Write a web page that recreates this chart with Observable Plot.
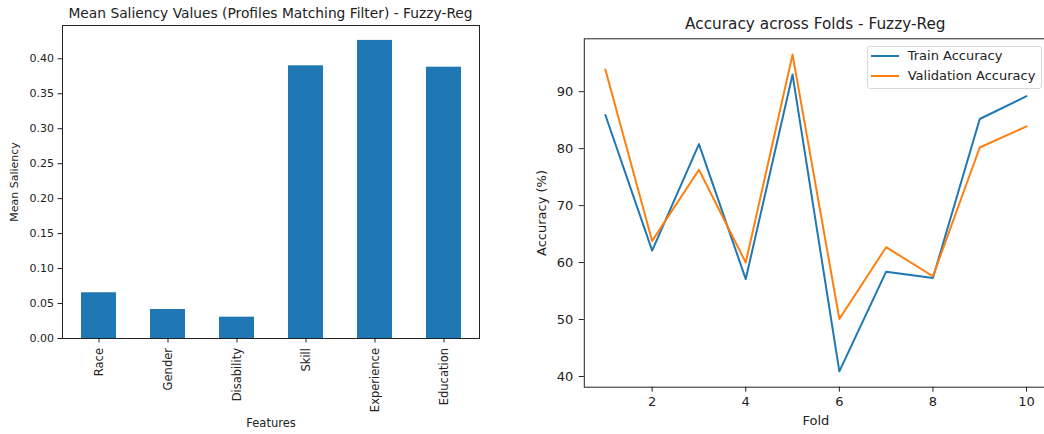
<!DOCTYPE html>
<html>
<head>
<meta charset="utf-8">
<script src="https://cdn.jsdelivr.net/npm/d3@7"></script>
<script src="https://cdn.jsdelivr.net/npm/@observablehq/plot@0.6"></script>
<style>
html, body { margin: 0; padding: 0; background: #fff; overflow: hidden; width: 1044px; height: 434px; }
#root { position: relative; width: 1044px; height: 434px; font-family: "DejaVu Sans", sans-serif; color: #222; }
.panel { position: absolute; top: 0; }
.title { position: absolute; white-space: nowrap; transform: translateX(-50%); }
.legend { position: absolute; border: 1px solid #d9d9d9; border-radius: 3px; background: rgba(255,255,255,0.85); box-sizing: border-box; }
.legend .sw { position: absolute; height: 2px; }
.legend .lab { position: absolute; white-space: nowrap; font-size: 13px; line-height: 16px; }
</style>
</head>
<body>
<div id="root"></div>
<script>
// ---- data ----
const features = ["Race", "Gender", "Disability", "Skill", "Experience", "Education"];
const saliency = [0.0654, 0.0415, 0.0305, 0.390, 0.4263, 0.388];
const saliencyTicks = [0, 0.05, 0.10, 0.15, 0.20, 0.25, 0.30, 0.35, 0.40];

const folds = [1, 2, 3, 4, 5, 6, 7, 8, 9, 10];
const trainAcc = [85.9, 62.1, 80.8, 57.1, 93.0, 40.9, 58.4, 57.3, 85.2, 89.2];
const valAcc = [93.9, 63.8, 76.3, 60.0, 96.5, 50.1, 62.7, 57.6, 80.2, 83.9];
const seriesNames = ["Train Accuracy", "Validation Accuracy"];
const seriesColors = ["#1f77b4", "#ff7f0e"];
const foldTicks = [2, 4, 6, 8, 10];
const accTicks = [40, 50, 60, 70, 80, 90];

const root = document.getElementById("root");

// ---- left: bar chart ----
const barData = features.map((f, i) => ({feature: f, value: saliency[i]}));
const yMaxL = d3.max(saliency) * 1.05;
const left = Plot.plot({
  width: 520, height: 434,
  marginLeft: 62, marginRight: 41, marginTop: 25, marginBottom: 96,
  style: {fontFamily: "DejaVu Sans, sans-serif", fontSize: "11px", color: "#222", background: "transparent", overflow: "visible"},
  x: {domain: features, paddingInner: 0.5, paddingOuter: 0.25},
  y: {domain: [0, yMaxL]},
  marks: [
    Plot.barY(barData, {x: "feature", y: "value", fill: "#1f77b4"}),
    Plot.frame({stroke: "#222"}),
    Plot.axisY({ticks: saliencyTicks, tickFormat: d3.format(".2f"), tickSize: 4.5, tickPadding: 4,
      label: "Mean Saliency", labelAnchor: "center", labelArrow: "none", labelOffset: 52}),
    Plot.axisX({tickRotate: -90, tickSize: 4.5, tickPadding: 5, fontSize: 11.5,
      label: "Features", labelAnchor: "center", labelArrow: "none", labelOffset: 88})
  ]
});
left.classList.add("panel");
left.style.left = "0px";
root.appendChild(left);

// ---- right: line chart ----
const lineData = [];
folds.forEach((f, i) => {
  lineData.push({fold: f, acc: trainAcc[i], series: seriesNames[0]});
  lineData.push({fold: f, acc: valAcc[i], series: seriesNames[1]});
});
const [fx0, fx1] = d3.extent(folds);
const fpad = (fx1 - fx0) * 0.05;
const allAcc = trainAcc.concat(valAcc);
const [ay0, ay1] = d3.extent(allAcc);
const apad = (ay1 - ay0) * 0.05;
const right = Plot.plot({
  width: 530, height: 434,
  marginLeft: 63.8, marginRight: 2.9, marginTop: 38.3, marginBottom: 47.3,
  style: {fontFamily: "DejaVu Sans, sans-serif", fontSize: "13px", color: "#222", background: "transparent", overflow: "visible"},
  x: {domain: [fx0 - fpad, fx1 + fpad]},
  y: {domain: [ay0 - apad, ay1 + apad]},
  color: {domain: seriesNames, range: seriesColors},
  marks: [
    Plot.lineY(lineData, {x: "fold", y: "acc", stroke: "series", strokeWidth: 2}),
    Plot.frame({stroke: "#222"}),
    Plot.axisY({ticks: accTicks, tickSize: 5, tickPadding: 6,
      label: "Accuracy (%)", labelAnchor: "center", labelArrow: "none", labelOffset: 48}),
    Plot.axisX({ticks: foldTicks, tickSize: 5, tickPadding: 5,
      label: "Fold", labelAnchor: "center", labelArrow: "none", labelOffset: 38})
  ]
});
right.classList.add("panel");
right.style.left = "520px";
root.appendChild(right);

// ---- titles ----
function addTitle(text, cx, top, size, lh) {
  const d = document.createElement("div");
  d.className = "title";
  d.textContent = text;
  d.style.left = cx + "px";
  d.style.top = top + "px";
  d.style.fontSize = size + "px";
  d.style.lineHeight = lh + "px";
  root.appendChild(d);
}
addTitle("Mean Saliency Values (Profiles Matching Filter) - Fuzzy-Reg", 270.5, 4.7, 13.8, 16);
addTitle("Accuracy across Folds - Fuzzy-Reg", 815.3, 15.4, 15.3, 18);

// ---- legend ----
const leg = document.createElement("div");
leg.className = "legend";
leg.style.left = "866.7px"; leg.style.top = "46px"; leg.style.width = "175px"; leg.style.height = "43px";
seriesNames.forEach((name, i) => {
  const sw = document.createElement("div");
  sw.className = "sw";
  sw.style.background = seriesColors[i];
  sw.style.left = "3px"; sw.style.width = "28px";
  sw.style.top = (9 + i * 20 - 1) + "px";
  leg.appendChild(sw);
  const lab = document.createElement("div");
  lab.className = "lab";
  lab.textContent = name;
  lab.style.left = "40px";
  lab.style.top = (9 + i * 20 - 8) + "px";
  leg.appendChild(lab);
});
root.appendChild(leg);
</script>
</body>
</html>
